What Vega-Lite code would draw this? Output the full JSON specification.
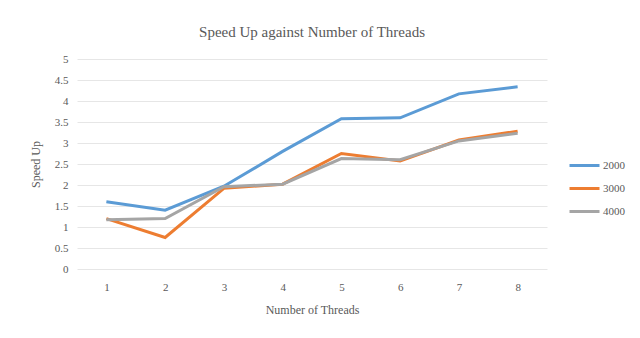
{
  "$schema": "https://vega.github.io/schema/vega-lite/v6.json",
  "width": 470,
  "height": 210,
  "autosize": {"type": "none"},
  "padding": {"left": 77, "top": 59, "right": 93, "bottom": 69},
  "background": "white",
  "title": {
    "text": "Speed Up against Number of Threads",
    "font": "Liberation Serif",
    "fontSize": 15,
    "fontWeight": "normal",
    "color": "#595959",
    "anchor": "middle",
    "offset": 13
  },
  "data": {
    "values": [
      {"threads": 1, "size": "2000", "speedup": 1.6},
      {"threads": 2, "size": "2000", "speedup": 1.4},
      {"threads": 3, "size": "2000", "speedup": 1.97},
      {"threads": 4, "size": "2000", "speedup": 2.8},
      {"threads": 5, "size": "2000", "speedup": 3.58},
      {"threads": 6, "size": "2000", "speedup": 3.6},
      {"threads": 7, "size": "2000", "speedup": 4.17},
      {"threads": 8, "size": "2000", "speedup": 4.34},
      {"threads": 1, "size": "3000", "speedup": 1.2},
      {"threads": 2, "size": "3000", "speedup": 0.75},
      {"threads": 3, "size": "3000", "speedup": 1.92},
      {"threads": 4, "size": "3000", "speedup": 2.02},
      {"threads": 5, "size": "3000", "speedup": 2.75},
      {"threads": 6, "size": "3000", "speedup": 2.57},
      {"threads": 7, "size": "3000", "speedup": 3.07},
      {"threads": 8, "size": "3000", "speedup": 3.28},
      {"threads": 1, "size": "4000", "speedup": 1.17},
      {"threads": 2, "size": "4000", "speedup": 1.2},
      {"threads": 3, "size": "4000", "speedup": 1.96},
      {"threads": 4, "size": "4000", "speedup": 2.02},
      {"threads": 5, "size": "4000", "speedup": 2.63},
      {"threads": 6, "size": "4000", "speedup": 2.6},
      {"threads": 7, "size": "4000", "speedup": 3.05},
      {"threads": 8, "size": "4000", "speedup": 3.23}
    ]
  },
  "mark": {"type": "line", "strokeWidth": 3},
  "encoding": {
    "x": {
      "field": "threads",
      "type": "ordinal",
      "scale": {"type": "point", "padding": 0.5},
      "axis": {
        "title": "Number of Threads",
        "labelAngle": 0,
        "domain": false,
        "ticks": false,
        "labelPadding": 12,
        "titlePadding": 12
      }
    },
    "y": {
      "field": "speedup",
      "type": "quantitative",
      "scale": {"domain": [0, 5], "nice": false},
      "axis": {
        "title": "Speed Up",
        "values": [0, 0.5, 1, 1.5, 2, 2.5, 3, 3.5, 4, 4.5, 5],
        "format": "~g",
        "domain": false,
        "ticks": false,
        "labelPadding": 9,
        "titlePadding": 12,
        "gridColor": "#e6e6e6"
      }
    },
    "color": {
      "field": "size",
      "type": "nominal",
      "scale": {"domain": ["2000", "3000", "4000"], "range": ["#5B9BD5", "#ED7D31", "#A5A5A5"]},
      "legend": {
        "title": null,
        "orient": "none",
        "legendX": 491,
        "legendY": 90,
        "symbolType": "stroke",
        "symbolSize": 900,
        "symbolStrokeWidth": 3,
        "rowPadding": -4,
        "labelOffset": 2,
        "labelFont": "Liberation Serif",
        "labelFontSize": 11,
        "labelFontWeight": "normal",
        "labelColor": "#595959"
      }
    }
  },
  "config": {
    "view": {"stroke": null},
    "style": {
      "guide-label": {"font": "Liberation Serif", "fontWeight": "normal"}
    },
    "axis": {
      "labelFont": "Liberation Serif",
      "labelFontSize": 11,
      "labelColor": "#595959",
      "titleFont": "Liberation Serif",
      "titleFontSize": 12,
      "titleFontWeight": "normal",
      "titleColor": "#595959",
      "grid": true
    },
    "axisX": {"grid": false}
  }
}
